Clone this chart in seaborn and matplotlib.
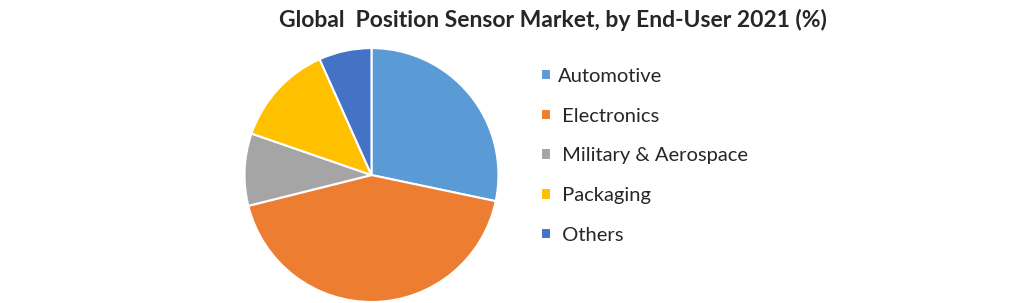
import matplotlib
matplotlib.use("Agg")
import matplotlib.pyplot as plt
import seaborn as sns

categories = ["Automotive", " Electronics", " Military & Aerospace", " Packaging", " Others"]
shares = [28.3, 42.8, 9.2, 13.0, 6.7]
colors = ["#5B9BD5", "#ED7D31", "#A5A5A5", "#FFC000", "#4472C4"]
title = "Global  Position Sensor Market, by End-User 2021 (%)"

sns.set_style("white")
plt.rcParams['font.family'] = ['Lato', 'DejaVu Sans']

fig = plt.figure(figsize=(10.2, 3.03), dpi=100)
ax = fig.add_axes([0.2397, 0.0033, 0.249, 0.838])
wedges, _ = ax.pie(shares, colors=colors, startangle=90, counterclock=False,
                   wedgeprops=dict(edgecolor="white", linewidth=1.5))
ax.set_xlim(-1, 1)
ax.set_ylim(-1, 1)
ax.set_aspect("equal")

fig.text(0.542, 0.935, title, ha="center", va="center", fontsize=16.5, fontweight="bold")

fig.legend(wedges, categories, loc="upper left", bbox_to_anchor=(0.513, 0.836),
           frameon=False, fontsize=14.5, handlelength=0.5, handleheight=0.5,
           handletextpad=0.3, labelspacing=1.13)

fig.savefig("out.png", dpi=100, facecolor="white")
